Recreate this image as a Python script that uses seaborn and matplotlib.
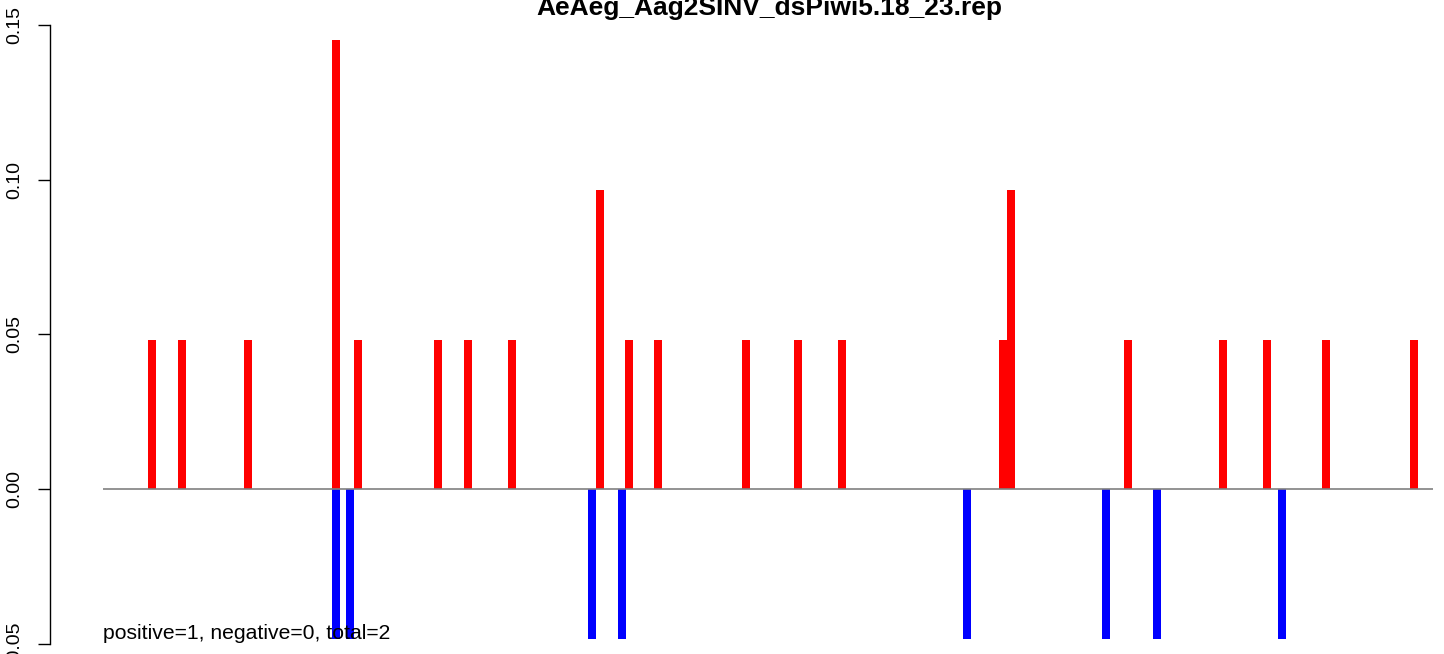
import numpy as np
import pandas as pd
import matplotlib
matplotlib.use("Agg")
import matplotlib.pyplot as plt
import seaborn as sns

# Data
title = "AeAeg_Aag2SINV_dsPiwi5.18_23.rep"
note = "positive=1, negative=0, total=2"

pos_x = [7, 11, 20, 32, 35, 46, 50, 56, 68, 72, 76, 88, 95, 101,
         123, 124, 140, 153, 159, 167, 179]
pos_y = [0.0483, 0.0483, 0.0483, 0.145, 0.0483, 0.0483, 0.0483, 0.0483,
         0.0966, 0.0483, 0.0483, 0.0483, 0.0483, 0.0483,
         0.0483, 0.0966, 0.0483, 0.0483, 0.0483, 0.0483, 0.0483]

neg_x = [32, 34, 67, 71, 118, 137, 144, 161]
neg_y = [-0.0483] * len(neg_x)

x_start, x_end = 0.32, 181.6
y_ticks = [-0.05, 0.0, 0.05, 0.10, 0.15]

df = pd.DataFrame({
    "pos": pos_x + neg_x,
    "value": pos_y + neg_y,
    "strand": ["plus"] * len(pos_x) + ["minus"] * len(neg_x),
})

sns.set_theme(style="white")
plt.rcParams["font.family"] = ["Liberation Sans", "DejaVu Sans"]

fig = plt.figure(figsize=(14.44, 6.54), dpi=100)
# R-like plot region: 4% padding, partly outside the canvas
ax = fig.add_axes([50 / 1444, -0.0222, 0.9947, 1.022])

sns.barplot(
    data=df, x="pos", y="value", hue="strand",
    palette={"plus": "#ff0000", "minus": "#0000ff"},
    native_scale=True, dodge=False, width=1.09,
    saturation=1, errorbar=None, linewidth=0, legend=False, ax=ax,
)

ax.hlines(0, x_start, x_end, color="#808080", linewidth=1.2, zorder=3)

span = x_end - x_start
ax.set_xlim(x_start - 0.04 * span, x_end + 0.04 * span)
ax.set_ylim(-0.058, 0.158)

ax.set_yticks(y_ticks)
ax.set_yticklabels([f"{t:.2f}" for t in y_ticks], rotation=90, va="center",
                   fontsize=14)
ax.tick_params(axis="y", left=True, length=8.6, width=1, pad=11,
               color="black", labelcolor="black")
ax.set_xticks([])
ax.set_xlabel("")
ax.set_ylabel("")

for s in ["top", "right", "bottom"]:
    ax.spines[s].set_visible(False)
ax.spines["left"].set_bounds(-0.05, 0.15)
ax.spines["left"].set_color("black")
ax.spines["left"].set_linewidth(1)

ax.text(x_start, -0.0485, note, ha="left", va="baseline", fontsize=15.2,
        color="black")

fig.text(769.5 / 1444, (654 - 15) / 654, title, ha="center",
         va="baseline", fontsize=19, fontweight="bold", color="black")

fig.savefig("out.png", dpi=100)
